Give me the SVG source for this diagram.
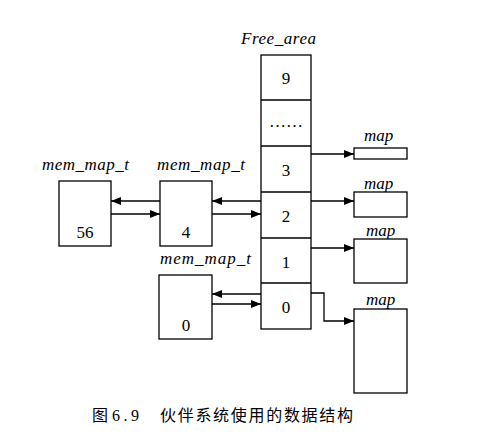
<svg xmlns="http://www.w3.org/2000/svg" width="490" height="444" viewBox="0 0 490 444">
<style>
.b{fill:#fff;stroke:#000;stroke-width:1.3}
.l{fill:none;stroke:#000;stroke-width:1.3}
.i{font-family:"Liberation Serif",serif;font-style:italic;font-size:17px;fill:#000}
.n{font-family:"Liberation Serif",serif;font-size:17px;fill:#000;text-anchor:middle}
.c{font-family:"Liberation Serif","Noto Sans CJK SC",serif;font-size:16px;fill:#000}
</style>
<defs>
<marker id="a" viewBox="0 0 10 8" refX="10" refY="4" markerWidth="10" markerHeight="8" markerUnits="userSpaceOnUse" orient="auto">
<path d="M0,0L10,4L0,8z" fill="#000"/>
</marker>
</defs>
<rect width="490" height="444" fill="#fff"/>
<g id="free_area">
<text class="i" x="241" y="44" textLength="75">Free_area</text>
<rect class="b" x="261" y="55" width="50" height="274"/>
<path class="l" d="M261,100H311M261,146H311M261,192H311M261,238H311M261,283H311"/>
<text class="n" x="286" y="84">9</text>
<text class="n" x="286" y="127">……</text>
<text class="n" x="286" y="176">3</text>
<text class="n" x="286" y="222">2</text>
<text class="n" x="286" y="268">1</text>
<text class="n" x="286" y="313">0</text>
</g>
<g id="map3">
<text class="i" x="364" y="141">map</text>
<rect class="b" x="354" y="148" width="53" height="11"/>
</g>
<g id="map2">
<text class="i" x="364" y="189">map</text>
<rect class="b" x="354" y="192" width="53" height="25"/>
</g>
<g id="map1">
<text class="i" x="366" y="236">map</text>
<rect class="b" x="354" y="239" width="53" height="44"/>
</g>
<g id="map0">
<text class="i" x="366" y="305">map</text>
<rect class="b" x="354" y="309" width="53" height="84"/>
</g>
<g id="mm56">
<text class="i" x="42" y="170" textLength="87">mem_map_t</text>
<rect class="b" x="59" y="181" width="52" height="65"/>
<text class="n" x="85" y="238">56</text>
</g>
<g id="mm4">
<text class="i" x="157" y="170" textLength="88">mem_map_t</text>
<rect class="b" x="160" y="181" width="52" height="65"/>
<text class="n" x="186" y="238">4</text>
</g>
<g id="mm0">
<text class="i" x="160" y="264" textLength="91">mem_map_t</text>
<rect class="b" x="159" y="275" width="53" height="64"/>
<text class="n" x="186" y="331">0</text>
</g>
<g id="connectors">
<path class="l" d="M160,201H111" marker-end="url(#a)"/>
<path class="l" d="M111,214H160" marker-end="url(#a)"/>
<path class="l" d="M261,201H212" marker-end="url(#a)"/>
<path class="l" d="M212,214H261" marker-end="url(#a)"/>
<path class="l" d="M261,294H212" marker-end="url(#a)"/>
<path class="l" d="M212,304H261" marker-end="url(#a)"/>
<path class="l" d="M311,154H354" marker-end="url(#a)"/>
<path class="l" d="M311,201H354" marker-end="url(#a)"/>
<path class="l" d="M311,248H354" marker-end="url(#a)"/>
<path class="l" d="M311,293H324V321H354" marker-end="url(#a)"/>
</g>
<g id="caption">
<text class="c" x="92" y="421">图</text>
<text class="c" x="112" y="421" textLength="27">6.9</text>
<text class="c" x="160" y="421" textLength="193">伙伴系统使用的数据结构</text>
</g>
</svg>
